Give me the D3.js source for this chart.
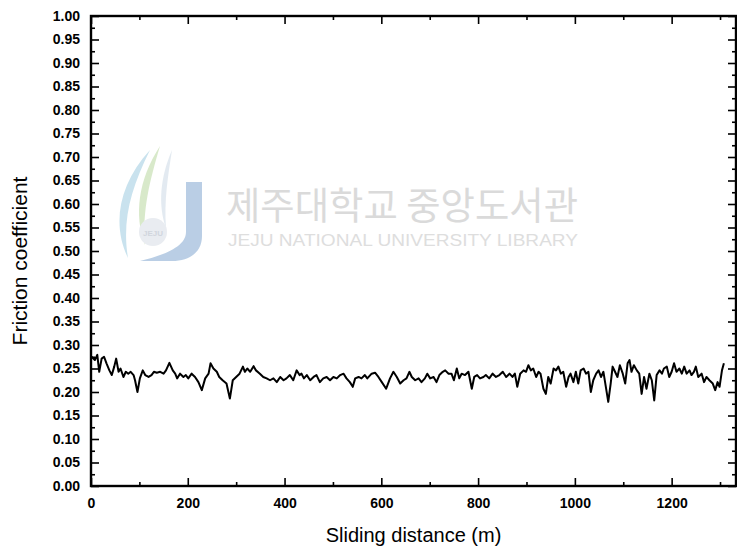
<!DOCTYPE html>
<html>
<head>
<meta charset="utf-8">
<script src="https://cdn.jsdelivr.net/npm/d3@7"></script>
<style>
  body { margin: 0; background: #fff; }
  svg { display: block; }
  .tick text { font-family: "Liberation Sans", Arial, sans-serif; font-weight: bold; font-size: 14px; fill: #000; }
  .tick line { stroke: #000; stroke-width: 1.6; }
  .axis-title { font-family: "Liberation Sans", Arial, sans-serif; font-size: 20px; fill: #000; }
</style>
</head>
<body>
<div id="chart"></div>
<script>
// sliding distance (m)
const distance = [
  1, 8, 13, 17, 22, 27, 32, 38, 43, 48, 52, 57, 61, 67, 72, 77, 82, 88, 91, 96,
  101, 107, 112, 119, 125, 130, 136, 143, 150, 155, 162, 169, 174, 178, 184, 191, 196, 201, 208, 215,
  222, 229, 236, 243, 247, 253, 260, 265, 272, 280, 287, 293, 300, 307, 314, 318, 323, 329, 336, 341,
  349, 356, 363, 370, 377, 384, 391, 398, 404, 411, 418, 425, 431, 435, 440, 446, 453, 460, 466, 473,
  480, 487, 494, 501, 508, 515, 522, 528, 535, 541, 546, 553, 559, 566, 571, 580, 587, 594, 601, 610,
  618, 625, 632, 639, 646, 652, 658, 663, 670, 677, 683, 690, 695, 701, 708, 714, 720, 727, 732, 739,
  745, 750, 756, 761, 766, 773, 780, 787, 792, 798, 804, 811, 816, 823, 830, 837, 844, 851, 858, 865,
  871, 876, 881, 887, 894, 899, 904, 909, 914, 920, 925, 929, 935, 940, 945, 950, 956, 961, 966, 971,
  976, 982, 987, 991, 997, 1002, 1007, 1012, 1018, 1023, 1028, 1033, 1038, 1044, 1049, 1054, 1059, 1064, 1069, 1074,
  1078, 1083, 1088, 1093, 1099, 1104, 1109, 1113, 1117, 1122, 1128, 1133, 1138, 1143, 1148, 1154, 1159, 1164, 1169, 1175,
  1180, 1184, 1190, 1195, 1200, 1205, 1210, 1216, 1221, 1226, 1231, 1237, 1241, 1246, 1250, 1255, 1262, 1267, 1272, 1278,
  1285, 1290, 1295, 1299, 1304, 1308
];

// friction coefficient at each distance
const friction = [
  0.275, 0.268, 0.279, 0.243, 0.271, 0.275, 0.261, 0.246, 0.236, 0.254, 0.271, 0.243, 0.250, 0.232, 0.243, 0.239, 0.243, 0.236, 0.225, 0.200,
  0.229, 0.246, 0.236, 0.232, 0.236, 0.243, 0.241, 0.243, 0.239, 0.246, 0.262, 0.246, 0.239, 0.229, 0.239, 0.232, 0.236, 0.229, 0.239, 0.232,
  0.221, 0.204, 0.229, 0.239, 0.261, 0.250, 0.243, 0.232, 0.225, 0.218, 0.186, 0.225, 0.232, 0.239, 0.254, 0.243, 0.250, 0.243, 0.255, 0.246,
  0.239, 0.232, 0.229, 0.225, 0.229, 0.221, 0.232, 0.225, 0.229, 0.236, 0.225, 0.246, 0.236, 0.239, 0.229, 0.236, 0.225, 0.232, 0.236, 0.221,
  0.229, 0.232, 0.225, 0.232, 0.229, 0.236, 0.239, 0.229, 0.221, 0.211, 0.229, 0.232, 0.229, 0.236, 0.229, 0.239, 0.241, 0.232, 0.221, 0.207,
  0.229, 0.243, 0.232, 0.218, 0.225, 0.229, 0.243, 0.232, 0.225, 0.229, 0.221, 0.229, 0.239, 0.229, 0.232, 0.221, 0.236, 0.243, 0.246, 0.239,
  0.239, 0.225, 0.250, 0.229, 0.239, 0.236, 0.243, 0.207, 0.232, 0.236, 0.229, 0.232, 0.236, 0.229, 0.239, 0.232, 0.236, 0.243, 0.232, 0.239,
  0.232, 0.239, 0.211, 0.239, 0.246, 0.243, 0.257, 0.246, 0.250, 0.232, 0.243, 0.239, 0.207, 0.196, 0.232, 0.218, 0.250, 0.246, 0.254, 0.239,
  0.243, 0.211, 0.232, 0.239, 0.221, 0.243, 0.218, 0.246, 0.250, 0.239, 0.243, 0.200, 0.225, 0.239, 0.246, 0.232, 0.243, 0.211, 0.179, 0.218,
  0.254, 0.243, 0.232, 0.257, 0.239, 0.218, 0.261, 0.268, 0.243, 0.257, 0.246, 0.239, 0.196, 0.232, 0.207, 0.239, 0.225, 0.182, 0.236, 0.246,
  0.239, 0.250, 0.254, 0.232, 0.243, 0.261, 0.243, 0.250, 0.239, 0.254, 0.239, 0.246, 0.236, 0.243, 0.254, 0.232, 0.239, 0.221, 0.232, 0.225,
  0.218, 0.204, 0.221, 0.211, 0.246, 0.261
];

const xMajorTicks = [0, 200, 400, 600, 800, 1000, 1200];
const xMinorTicks = [100, 300, 500, 700, 900, 1100, 1300];
const yMajorTicks = [0, 0.05, 0.10, 0.15, 0.20, 0.25, 0.30, 0.35, 0.40, 0.45, 0.50,
  0.55, 0.60, 0.65, 0.70, 0.75, 0.80, 0.85, 0.90, 0.95, 1.00];
const yMinorTicks = [0.025, 0.075, 0.125, 0.175, 0.225, 0.275, 0.325, 0.375, 0.425, 0.475,
  0.525, 0.575, 0.625, 0.675, 0.725, 0.775, 0.825, 0.875, 0.925, 0.975];

const W = 737, H = 555;
const plot = { left: 91, right: 736, top: 16, bottom: 486 };

const svg = d3.select('#chart').append('svg')
  .attr('width', W)
  .attr('height', H);

const xScale = d3.scaleLinear().domain([0, 1333]).range([plot.left, plot.right]);
const yScale = d3.scaleLinear().domain([0, 1]).range([plot.bottom, plot.top]);

// faint library watermark behind the plot
const wm = svg.append('g').attr('class', 'watermark').attr('opacity', 0.8);
wm.append('path')
  .attr('d', 'M150,150 C118,185 112,225 128,258 C122,222 130,190 150,150 Z')
  .attr('fill', '#bcdcea');
wm.append('path')
  .attr('d', 'M160,146 C138,180 134,215 145,245 C142,210 150,180 160,146 Z')
  .attr('fill', '#cfe4bd');
wm.append('path')
  .attr('d', 'M172,150 C160,178 158,205 166,228 C164,200 168,176 172,150 Z')
  .attr('fill', '#dde6ee');
wm.append('path')
  .attr('d', 'M186,182 L202,182 L202,236 C202,252 190,261 172,261 L140,261 C160,256 186,248 186,232 Z')
  .attr('fill', '#a9c3df');
wm.append('circle').attr('cx', 153).attr('cy', 232).attr('r', 14).attr('fill', '#e4e8ee');
wm.append('text')
  .attr('x', 153).attr('y', 236)
  .attr('text-anchor', 'middle')
  .style('font-family', '"Liberation Sans", Arial, sans-serif')
  .style('font-size', '8px').style('font-weight', 'bold')
  .style('fill', '#c6ccd6')
  .text('JEJU');
wm.append('text')
  .attr('x', 226).attr('y', 219)
  .attr('textLength', 352).attr('lengthAdjust', 'spacingAndGlyphs')
  .style('font-family', '"Noto Sans CJK KR", sans-serif')
  .style('font-size', '38px')
  .style('fill', '#d2d2d2')
  .text('제주대학교 중앙도서관');
wm.append('text')
  .attr('x', 228).attr('y', 246)
  .attr('textLength', 350).attr('lengthAdjust', 'spacingAndGlyphs')
  .style('font-family', '"Liberation Sans", Arial, sans-serif')
  .style('font-size', '16px')
  .style('fill', '#d6d6d6')
  .text('JEJU NATIONAL UNIVERSITY  LIBRARY');

// axes: ticks point inward on all four sides
function styleAxis(g) {
  g.select('.domain').remove();
  g.attr('font-family', null).attr('font-size', null);
}

svg.append('g')
  .attr('transform', `translate(0,${plot.bottom})`)
  .call(d3.axisBottom(xScale).tickValues(xMajorTicks).tickSize(-8).tickPadding(12).tickFormat(d3.format('d')))
  .call(styleAxis);
svg.append('g')
  .attr('transform', `translate(0,${plot.bottom})`)
  .call(d3.axisBottom(xScale).tickValues(xMinorTicks).tickSize(-4).tickFormat(''))
  .call(styleAxis);
svg.append('g')
  .attr('transform', `translate(0,${plot.top})`)
  .call(d3.axisTop(xScale).tickValues(xMajorTicks).tickSize(-8).tickFormat(''))
  .call(styleAxis);
svg.append('g')
  .attr('transform', `translate(0,${plot.top})`)
  .call(d3.axisTop(xScale).tickValues(xMinorTicks).tickSize(-4).tickFormat(''))
  .call(styleAxis);

svg.append('g')
  .attr('transform', `translate(${plot.left},0)`)
  .call(d3.axisLeft(yScale).tickValues(yMajorTicks).tickSize(-8).tickPadding(11).tickFormat(d3.format('.2f')))
  .call(styleAxis);
svg.append('g')
  .attr('transform', `translate(${plot.left},0)`)
  .call(d3.axisLeft(yScale).tickValues(yMinorTicks).tickSize(-4).tickFormat(''))
  .call(styleAxis);
svg.append('g')
  .attr('transform', `translate(${plot.right},0)`)
  .call(d3.axisRight(yScale).tickValues(yMajorTicks).tickSize(-8).tickFormat(''))
  .call(styleAxis);
svg.append('g')
  .attr('transform', `translate(${plot.right},0)`)
  .call(d3.axisRight(yScale).tickValues(yMinorTicks).tickSize(-4).tickFormat(''))
  .call(styleAxis);

// frame
svg.append('rect')
  .attr('x', plot.left)
  .attr('y', plot.top)
  .attr('width', plot.right - plot.left)
  .attr('height', plot.bottom - plot.top)
  .attr('fill', 'none')
  .attr('stroke', '#000')
  .attr('stroke-width', 2.4);

// friction trace
const line = d3.line()
  .x((d, i) => xScale(distance[i]))
  .y((d) => yScale(d));

svg.append('path')
  .datum(friction)
  .attr('d', line)
  .attr('fill', 'none')
  .attr('stroke', '#000')
  .attr('stroke-width', 2)
  .attr('stroke-linejoin', 'round');

// axis titles
svg.append('text')
  .attr('class', 'axis-title')
  .attr('text-anchor', 'middle')
  .attr('x', (plot.left + plot.right) / 2)
  .attr('y', 542)
  .text('Sliding distance (m)');

svg.append('text')
  .attr('class', 'axis-title')
  .attr('text-anchor', 'middle')
  .attr('transform', 'rotate(-90)')
  .attr('x', -261)
  .attr('y', 27)
  .style('font-size', '21px')
  .text('Friction coefficient');
</script>
</body>
</html>
